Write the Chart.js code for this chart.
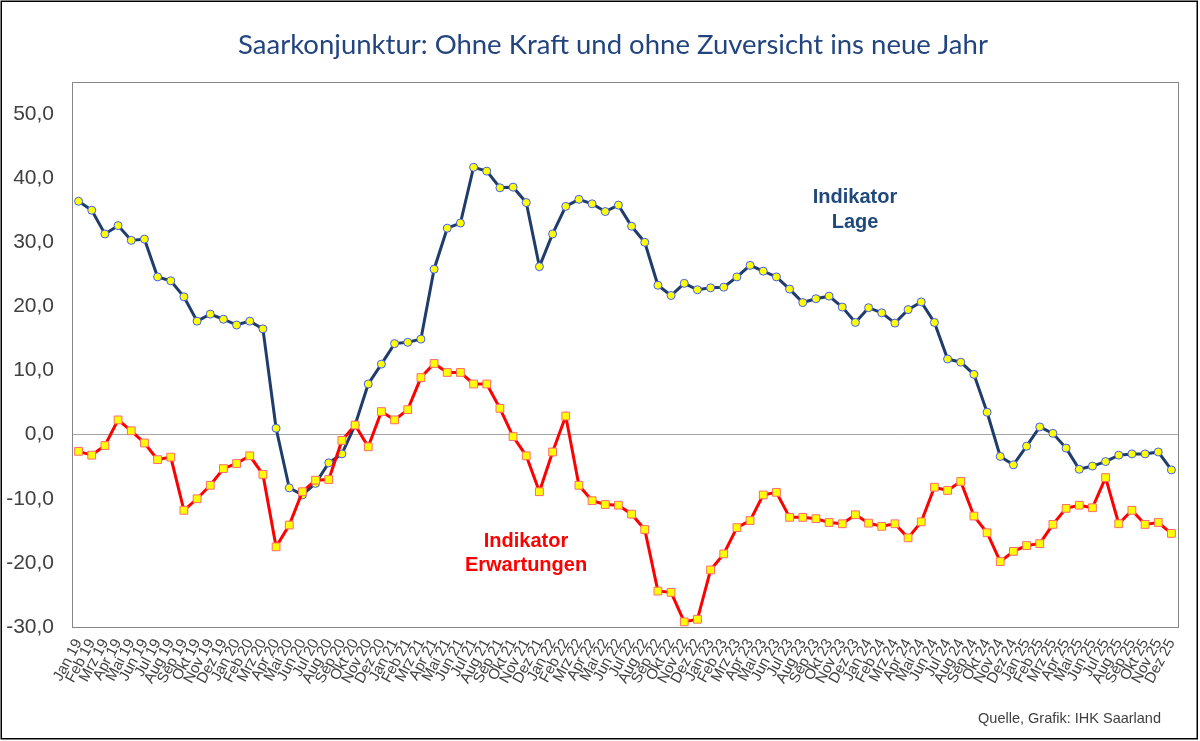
<!DOCTYPE html>
<html lang="de">
<head>
<meta charset="utf-8">
<title>Saarkonjunktur</title>
<script src="https://cdn.jsdelivr.net/npm/chart.js@4.4.1/dist/chart.umd.min.js"></script>
<style>
  html, body { margin: 0; padding: 0; background: #fff; }
  canvas { display: block; }
</style>
</head>
<body>
<canvas id="konjChart" width="1200" height="741"></canvas>
<script>
// ── DATA ─────────────────────────────────────────
const monthNames = ["Jan", "Feb", "Mrz", "Apr", "Mai", "Jun", "Jul", "Aug", "Sep", "Okt", "Nov", "Dez"];
const years      = ["19", "20", "21", "22", "23", "24", "25"];
const labels     = years.flatMap(y => monthNames.map(m => m + " " + y));

// Indikator Lage (Jan 19 – Dez 25)
const lage = [
  36.4, 35.0, 31.3, 32.6, 30.3, 30.5, 24.6, 24.0, 21.5, 17.7, 18.8, 18.0,
  17.1, 17.7, 16.5,  1.0, -8.3, -9.4, -7.6, -4.4, -3.0,  1.5,  7.9, 11.0,
  14.2, 14.4, 14.9, 25.8, 32.2, 33.0, 41.7, 41.1, 38.5, 38.6, 36.2, 26.2,
  31.3, 35.6, 36.7, 36.0, 34.8, 35.8, 32.5, 30.0, 23.3, 21.7, 23.6, 22.6,
  22.9, 23.0, 24.6, 26.4, 25.5, 24.6, 22.7, 20.6, 21.2, 21.6, 19.9, 17.5,
  19.8, 19.0, 17.4, 19.5, 20.7, 17.5, 11.8, 11.3,  9.4,  3.5, -3.4, -4.7,
  -1.8,  1.2,  0.2, -2.1, -5.4, -4.9, -4.2, -3.2, -3.0, -3.0, -2.7, -5.5,
];

// Indikator Erwartungen (Jan 19 – Dez 25)
const erwartungen = [
   -2.6,  -3.2,  -1.7,   2.3,   0.6,  -1.3,  -3.9,  -3.5, -11.8, -10.0,  -7.9,  -5.3,
   -4.5,  -3.3,  -6.2, -17.5, -14.1,  -8.9,  -7.1,  -7.0,  -0.9,   1.5,  -1.9,   3.6,
    2.3,   3.9,   8.9,  11.1,   9.7,   9.7,   7.9,   7.9,   4.1,  -0.3,  -3.3,  -8.9,
   -2.7,   2.9,  -7.9, -10.3, -10.9, -11.0, -12.4, -14.8, -24.4, -24.6, -29.2, -28.8,
  -21.1, -18.6, -14.5, -13.4,  -9.4,  -9.0, -12.9, -12.9, -13.1, -13.7, -13.9, -12.5,
  -13.8, -14.3, -13.9, -16.1, -13.6,  -8.2,  -8.7,  -7.3, -12.7, -15.3, -19.8, -18.2,
  -17.3, -17.0, -14.0, -11.5, -11.0, -11.4,  -6.7, -13.9, -11.8, -14.0, -13.7, -15.4,
];

// y-Achse
const yMin      = -30;
const yMax      = 55;
const yStep     = 10;
const yLabelMax = 50;

// ── TEXTE ────────────────────────────────────────
const titleText  = "Saarkonjunktur: Ohne Kraft und ohne Zuversicht ins neue Jahr";
const labelLage  = ["Indikator", "Lage"];
const labelErw   = ["Indikator", "Erwartungen"];
const sourceText = "Quelle, Grafik: IHK Saarland";

// ── DEKOR-PLUGIN (Rahmen, Titel, Beschriftungen) ─
const decorPlugin = {
  id: "decor",
  beforeDraw(chart) {
    const ctx = chart.ctx;
    ctx.save();
    ctx.fillStyle = "#ffffff";
    ctx.fillRect(0, 0, chart.width, chart.height);
    ctx.restore();
  },
  beforeDatasetsDraw(chart) {
    const { ctx, chartArea: a } = chart;
    ctx.save();
    ctx.strokeStyle = "#868686";
    ctx.lineWidth   = 1;
    ctx.strokeRect(Math.round(a.left) + 0.5, Math.round(a.top) + 0.5,
                   Math.round(a.right - a.left), Math.round(a.bottom - a.top));
    ctx.restore();
  },
  afterDraw(chart) {
    const ctx = chart.ctx;
    ctx.save();

    // äußerer Rahmen
    ctx.strokeStyle = "#000000";
    ctx.lineWidth   = 1.5;
    ctx.strokeRect(1.25, 1.25, 1196, 737.5);

    // Titel
    ctx.fillStyle    = "#23457f";
    ctx.font         = "27.5px Lato";
    ctx.textAlign    = "center";
    ctx.textBaseline = "middle";
    ctx.fillText(titleText, 613, 45);

    // Serienbeschriftungen
    ctx.font      = "bold 20px 'Liberation Sans', Arial";
    ctx.fillStyle = "#1f497d";
    labelLage.forEach((t, i) => ctx.fillText(t, 855, 197 + i * 25));
    ctx.fillStyle = "#ff0000";
    labelErw.forEach((t, i) => ctx.fillText(t, 526, 541 + i * 24));

    // Quelle
    ctx.font      = "14.5px 'Liberation Sans', Arial";
    ctx.fillStyle = "#404040";
    ctx.textAlign = "right";
    ctx.fillText(sourceText, 1161, 719);

    ctx.restore();
  },
};

// ── CHART ────────────────────────────────────────
const fmt = v => v.toFixed(1).replace(".", ",");

new Chart(document.getElementById("konjChart"), {
  type: "line",
  data: {
    labels,
    datasets: [
      {
        label:                "Indikator Erwartungen",
        data:                 erwartungen,
        order:                0,
        borderColor:          "#ff0000",
        borderWidth:          3,
        pointStyle:           "rect",
        pointRadius:          5.5,
        pointBackgroundColor: "#ffff00",
        pointBorderColor:     "#ff6a6a",
        pointBorderWidth:     1,
        tension:              0,
        clip:                 false,
      },
      {
        label:                "Indikator Lage",
        data:                 lage,
        order:                1,
        borderColor:          "#1f3c6b",
        borderWidth:          3,
        pointStyle:           "circle",
        pointRadius:          4,
        pointBackgroundColor: "#ffff00",
        pointBorderColor:     "#3f5cff",
        pointBorderWidth:     1,
        tension:              0,
        clip:                 false,
      },
    ],
  },
  options: {
    responsive: false,
    animation:  false,
    layout: { padding: { top: 82, right: 22, left: 0, bottom: 0 } },
    plugins: {
      legend:  { display: false },
      tooltip: { enabled: false },
      title:   { display: false },
    },
    scales: {
      x: {
        type:   "category",
        offset: true,
        grid:   { display: false, drawTicks: false },
        border: { display: false },
        ticks: {
          autoSkip:    false,
          maxRotation: 62,
          minRotation: 62,
          padding:     9,
          color:       "#404040",
          font:        { family: "'Liberation Sans', Arial", size: 15 },
        },
        afterFit: s => { s.height = 114; },
      },
      y: {
        min: yMin,
        max: yMax,
        grid: {
          drawTicks: false,
          lineWidth: 1,
          color:     c => (c.tick && c.tick.value === 0 ? "#a6a6a6" : "transparent"),
        },
        border: { display: false },
        ticks: {
          stepSize: yStep,
          padding:  18,
          color:    "#404040",
          font:     { family: "'Liberation Sans', Arial", size: 21 },
          callback: v => fmt(v),
        },
        afterBuildTicks: s => { s.ticks = s.ticks.filter(t => t.value <= yLabelMax); },
        afterFit: s => { s.width = 72; },
      },
    },
  },
  plugins: [decorPlugin],
});
</script>
</body>
</html>
